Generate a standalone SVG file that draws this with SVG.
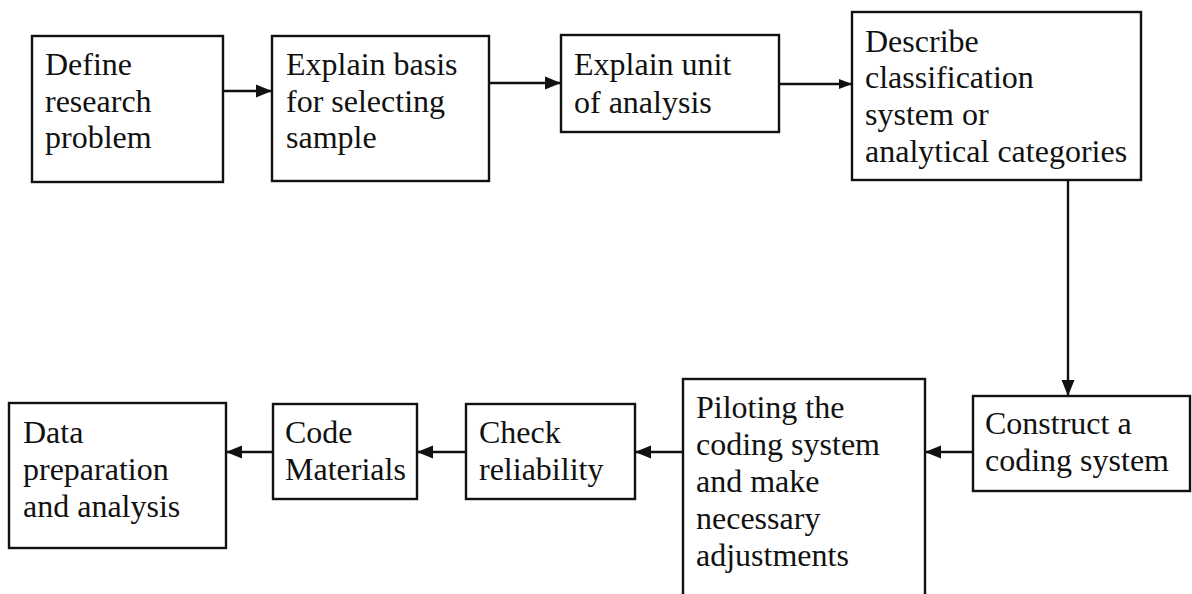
<svg xmlns="http://www.w3.org/2000/svg" width="1192" height="594" viewBox="0 0 1192 594">
  <style>
    .box { fill: #ffffff; stroke: #111111; stroke-width: 2.4; }
    .lbl { font-family: "Liberation Serif", "Times New Roman", serif; font-size: 32px; fill: #111111; }
    .conn { stroke: #111111; stroke-width: 2.4; fill: none; }
  </style>
  <defs>
    <marker id="arr" markerUnits="userSpaceOnUse" markerWidth="17" markerHeight="14" refX="16" refY="7" orient="auto">
      <path d="M0,0.5 L16,7 L0,13.5 z" fill="#111111"/>
    </marker>
    <marker id="arrs" markerUnits="userSpaceOnUse" markerWidth="14" markerHeight="12" refX="13" refY="6" orient="auto">
      <path d="M0,1 L13,6 L0,11 z" fill="#111111"/>
    </marker>
  </defs>
  <rect x="0" y="0" width="1192" height="594" fill="#ffffff"/>

  <g id="connectors">
    <path class="conn" d="M223,91 H272" marker-end="url(#arr)"/>
    <path class="conn" d="M489,83 H561" marker-end="url(#arr)"/>
    <path class="conn" d="M779,84 H852" marker-end="url(#arrs)"/>
    <path class="conn" d="M1068,180 V396" marker-end="url(#arr)"/>
    <path class="conn" d="M973,452 H925" marker-end="url(#arr)"/>
    <path class="conn" d="M683,452 H635" marker-end="url(#arr)"/>
    <path class="conn" d="M466,452 H417" marker-end="url(#arr)"/>
    <path class="conn" d="M273,452 H226" marker-end="url(#arr)"/>
  </g>

  <g id="n1">
    <rect class="box" x="32" y="36" width="191" height="146"/>
    <text class="lbl" x="45" y="75">Define</text>
    <text class="lbl" x="45" y="112">research</text>
    <text class="lbl" x="45" y="148">problem</text>
  </g>
  <g id="n2">
    <rect class="box" x="272" y="36" width="217" height="145"/>
    <text class="lbl" x="286" y="75">Explain basis</text>
    <text class="lbl" x="286" y="112">for selecting</text>
    <text class="lbl" x="286" y="148">sample</text>
  </g>
  <g id="n3">
    <rect class="box" x="561" y="35" width="218" height="97"/>
    <text class="lbl" x="574" y="75">Explain unit</text>
    <text class="lbl" x="574" y="113">of analysis</text>
  </g>
  <g id="n4">
    <rect class="box" x="852" y="12" width="289" height="168"/>
    <text class="lbl" x="865" y="52">Describe</text>
    <text class="lbl" x="865" y="88">classification</text>
    <text class="lbl" x="865" y="125">system or</text>
    <text class="lbl" x="865" y="162">analytical categories</text>
  </g>
  <g id="n5">
    <rect class="box" x="973" y="396" width="217" height="95"/>
    <text class="lbl" x="985" y="434">Construct a</text>
    <text class="lbl" x="985" y="471">coding system</text>
  </g>
  <g id="n6">
    <rect class="box" x="683" y="379" width="242" height="240"/>
    <text class="lbl" x="696" y="418">Piloting the</text>
    <text class="lbl" x="696" y="455">coding system</text>
    <text class="lbl" x="696" y="492">and make</text>
    <text class="lbl" x="696" y="529">necessary</text>
    <text class="lbl" x="696" y="566">adjustments</text>
  </g>
  <g id="n7">
    <rect class="box" x="466" y="404" width="169" height="95"/>
    <text class="lbl" x="479" y="443">Check</text>
    <text class="lbl" x="479" y="480">reliability</text>
  </g>
  <g id="n8">
    <rect class="box" x="273" y="404" width="144" height="95"/>
    <text class="lbl" x="285" y="443">Code</text>
    <text class="lbl" x="285" y="480">Materials</text>
  </g>
  <g id="n9">
    <rect class="box" x="9" y="403" width="217" height="145"/>
    <text class="lbl" x="23" y="443">Data</text>
    <text class="lbl" x="23" y="480">preparation</text>
    <text class="lbl" x="23" y="517">and analysis</text>
  </g>
</svg>
